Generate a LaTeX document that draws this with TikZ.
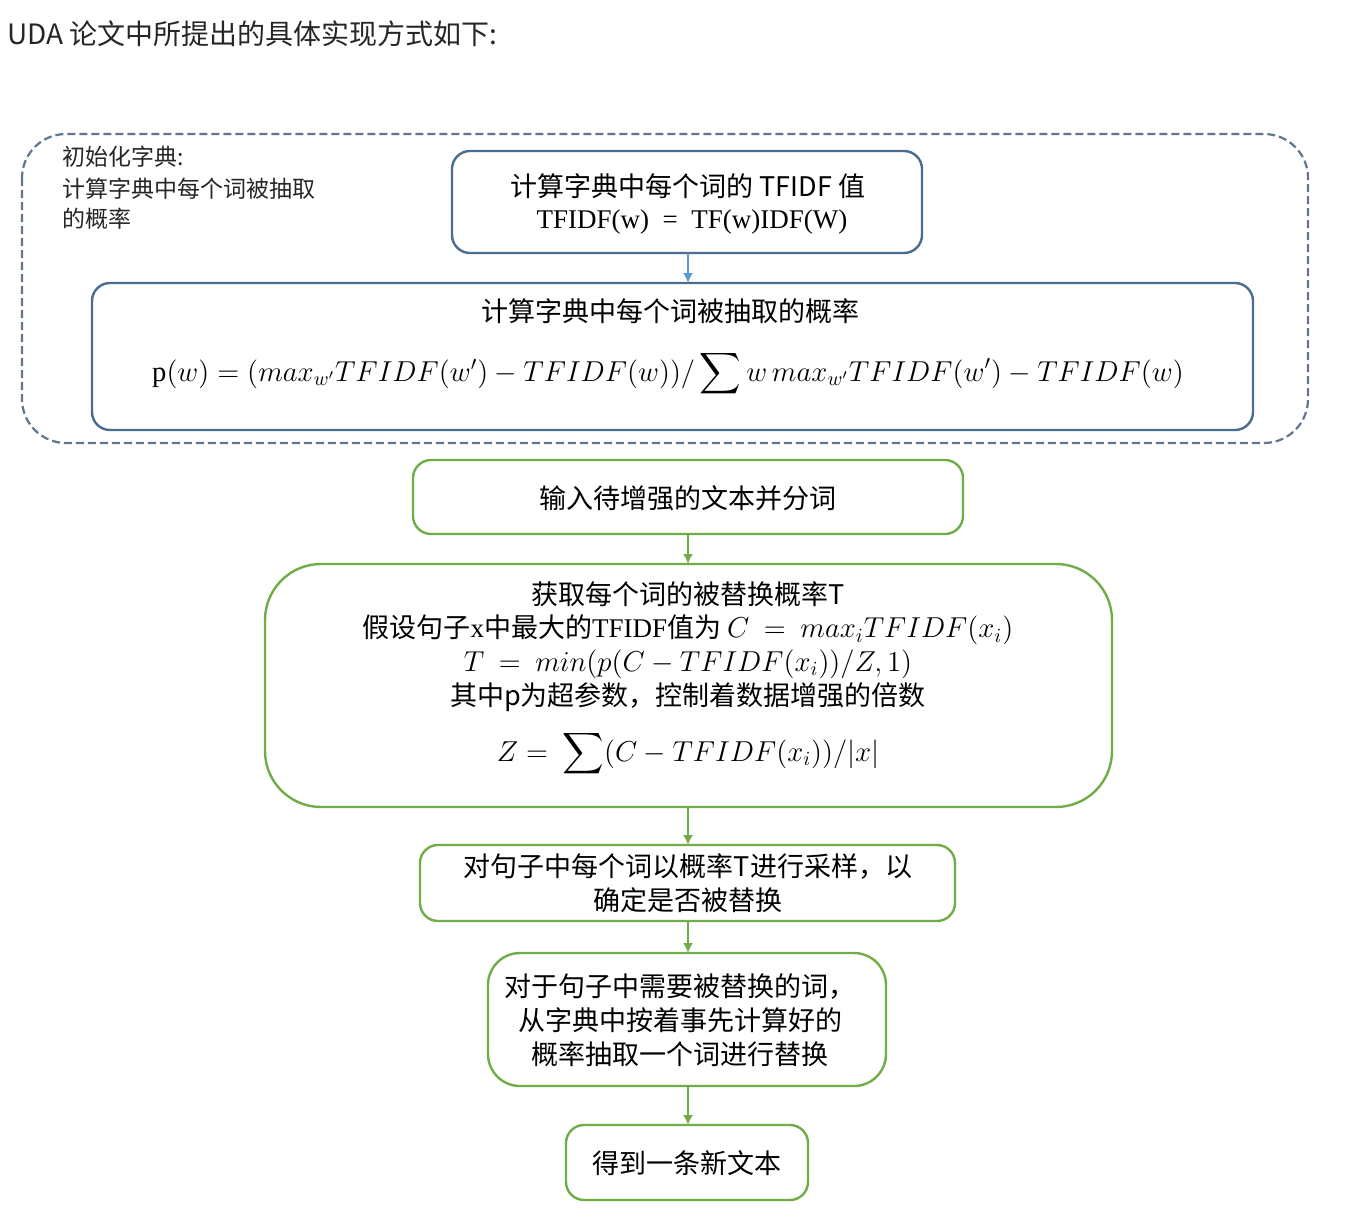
\documentclass[tikz,border=0pt]{standalone}
\usepackage{fontspec}
\usepackage{amsmath}
\setmainfont{Noto Sans CJK SC}
\newfontfamily\serif{Liberation Serif}
\usetikzlibrary{arrows.meta}
\definecolor{boxblue}{HTML}{4A6C8F}
\definecolor{arrblue}{HTML}{5B9BD5}
\definecolor{boxgreen}{HTML}{70AD47}
\definecolor{dashgray}{HTML}{5F7590}
\tikzset{
 bluebox/.style={draw=boxblue, line width=1.2pt, rounded corners=9pt, fill=white},
 greenbox/.style={draw=boxgreen, line width=1.2pt, rounded corners=9pt, fill=white},
 txt/.style={align=center, font=\fontsize{13.5}{17}\selectfont, inner sep=0pt},
 barrow/.style={draw=arrblue, line width=1.2pt, -{Latex[length=5pt,width=5pt]}},
 garrow/.style={draw=boxgreen, line width=1.2pt, -{Latex[length=5pt,width=5pt]}},
}
\begin{document}
\begin{tikzpicture}[x=0.5pt,y=-0.5pt]
\useasboundingbox (0,0) rectangle (1370,1220);
\node[anchor=west, font=\fontsize{14}{16}\selectfont, text=black!85, inner sep=0pt] (hdr) at (7,34) {UDA 论文中所提出的具体实现方式如下:};
\draw[dashgray, line width=1.1pt, dashed, dash pattern=on 4pt off 2pt, rounded corners=22pt] (22,134) rectangle (1308,443);
\node[anchor=north west, align=left, inner sep=0pt, font=\fontsize{11.5}{15}\selectfont, text=black!85] (init) at (62,146) {初始化字典:\\[1pt]计算字典中每个词被抽取\\的概率};
% box1
\draw[bluebox] (452,151) rectangle (922,253);
\coordinate (b1b) at (688,253);
\node[txt] (t1a) at (688,186) {计算字典中每个词的 TFIDF 值};
\node[txt] (t1b) at (692,222) {\serif TFIDF(w)\ \ =\ \ TF(w)IDF(W)};
% box2
\draw[bluebox] (92,283) rectangle (1253,430);
\coordinate (b2t) at (688,283);
\node[txt] (t2a) at (670,311) {计算字典中每个词被抽取的概率};
\node[txt] (t2b) at (668,374) {\fontsize{14.3}{17}\selectfont $\textrm{\serif p}(w) = (max_{w'}TFIDF(w') - TFIDF(w))/\displaystyle\sum w\,max_{w'}TFIDF(w') - TFIDF(w)$};
\draw[barrow] (b1b) -- (b2t);
% box3
\draw[greenbox] (413,460) rectangle (963,534);
\node[txt] (t3) at (688,498) {输入待增强的文本并分词};
% box4
\draw[greenbox, rounded corners=28pt] (265,564) rectangle (1112,807);
\node[txt] (t4a) at (688,594) {获取每个词的被替换概率T};
\node[txt] (t4b) at (688,630) {假设句子{\serif x}中最大的{\serif TFIDF}值为 \fontsize{14.5}{17}\selectfont$C\ =\ max_iTFIDF(x_i)$};
\node[txt] (t4c) at (688,664) {\fontsize{14.5}{17}\selectfont$T\ =\ min(p(C-TFIDF(x_i))/Z,1)$};
\node[txt] (t4d) at (688,697) {其中p为超参数，控制着数据增强的倍数};
\node[txt] (t4e) at (688,754) {\fontsize{14.5}{17}\selectfont$Z=\ \displaystyle\sum(C-TFIDF(x_i))/|x|$};
% box5
\draw[greenbox] (420,845) rectangle (955,921);
\node[txt] (t5) at (688,883) {对句子中每个词以概率T进行采样，以\\确定是否被替换};
% box6
\draw[greenbox, rounded corners=16pt] (488,953) rectangle (886,1086);
\node[txt] (t6) at (680,1020) {对于句子中需要被替换的词，\\从字典中按着事先计算好的\\概率抽取一个词进行替换};
% box7
\draw[greenbox] (566,1125) rectangle (808,1200);
\node[txt] (t7) at (687,1163) {得到一条新文本};
% arrows
\draw[garrow] (688,534) -- (688,564);
\draw[garrow] (688,807) -- (688,845);
\draw[garrow] (688,921) -- (688,953);
\draw[garrow] (688,1086) -- (688,1125);
\end{tikzpicture}
\end{document}
